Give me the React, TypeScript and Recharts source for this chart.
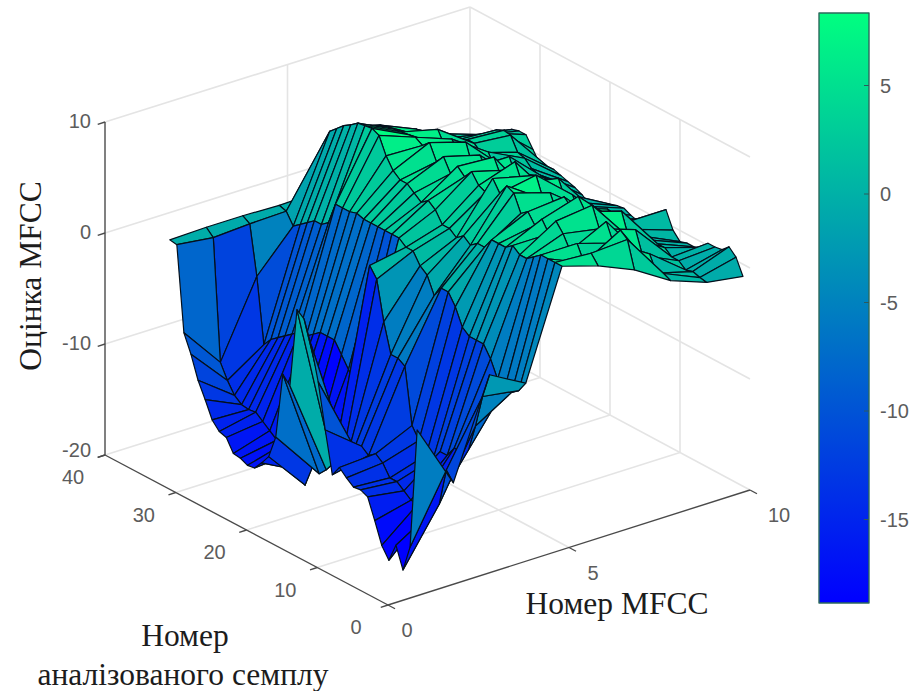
import React from "react";
import { ScatterChart, Scatter, XAxis, YAxis } from "recharts";

// Estimated MFCC scores, one array per MFCC number, indexed by sample 1..36
const mfcc1 = [-5.6,-16.5,-18.9,-17,-18.7,-17.7,-15.8,-14,-13.7,-13.8,-13.3,-12.7,-13.7,-10,-6,-3,-1,-0.5,-7.7,-7,-13,-15.1,-16,-16.8,-16.9,-16.6,-16.5,-15.4,-15.2,-14.5,-13,-11.6,-9.6,-8,-0.4,-0.3];
const mfcc2 = [-11.4,-10.6,-14,-15,-15.5,-15,-15,-14.5,-14,-14,-13,-12.5,-13,-12.5,-13,-14,-15.5,-15.4,-16.3,-17,-16.8,-18.7,-17.7,-16.5,-16,-16,-15.5,-15,-14.5,-14.6,-14.5,-14,-13,-11.7,-0.8,-0.2];
const mfcc3 = [-2.7,-5,-8,-10.5,-11,-11,-12,-12,-13,-13,-12,-11,-6,-5.6,-5.6,-3,0.5,1.4,-9,-10,-9,-8,-7,-7,-7,-7.5,-8,-8,-8.5,-9,-9.5,-10,-10.8,-5,-0.6,-0.2];
const mfcc4 = [-4.5,-5.5,-6,-6,-5.5,-4,-3,-3,-3,-2.5,-1,0,0,-1,0.5,1,2,2,2.5,2.5,2.5,2.5,2.5,2.5,2.7,2.5,2.5,2.5,0.5,0,0,-0.5,-1,-1.5,-0.5,-0.3];
const mfcc5 = [5,5,5,5,4.5,4,4,4.5,4,4,4,3,3,2.5,3,2.5,3,3,4,4.5,4,4.5,5,5,5.5,6.5,8,8.3,8.2,8.1,7.6,7.2,6.6,6,4.5,-0.2];
const mfcc6 = [4,4.8,3.6,5,4,5.2,6,4.5,5.5,4.6,5.5,5,6.5,6.8,5.8,6.8,5.2,5.5,6.4,5.6,6.2,5.2,6.4,5.6,7,6.4,6.8,6.7,6.6,6.5,6.4,6.2,5.8,5,4,0];
const mfcc7 = [2.6,5,5.5,4,5.6,4.6,6.4,5.5,6.5,5.2,5.8,4,5.5,4.6,6.4,6,5,6.6,5.5,4.6,6,4.5,5.5,4,6,4.6,5.6,4.6,5.8,4.7,4.5,4.8,4.5,4,3,0];
const mfcc8 = [0.6,0.9,0.6,2,1.5,3.5,2.5,4.5,3.4,4,2.5,2,3,2.4,3.6,2.8,4.4,2.6,3.8,2.5,1.6,3,2.4,4,2.8,2.2,3.4,3,3.5,3.5,3.2,3,3,2.5,2,0];
const mfcc9 = [-0.6,-0.5,-0.3,-0.5,0,0,0.5,0.5,0.5,0.5,0.8,1.2,1,0.5,0,0,0.5,0.5,0.5,0.8,0.5,0,0.5,1,1,1.2,1.8,2,3.2,3.3,3,2.4,1.9,1.5,1,0];
const mfcc10 = [-1.1,0.3,0.9,0.3,0.2,0.2,-0.5,-0.8,-0.8,-1,-0.3,1.2,0.2,-1,-1.2,-1.2,-1,-0.7,-0.8,-1,-1.5,-2.2,-2,-1.5,-1.2,-1,-0.8,-0.6,-0.6,-0.8,0.2,1.2,1.2,1,0.6,0];
const scores = [mfcc1, mfcc2, mfcc3, mfcc4, mfcc5, mfcc6, mfcc7, mfcc8, mfcc9, mfcc10];

const mfccTicks = [0, 5, 10];
const sampleTicks = [0, 10, 20, 30, 40];
const scoreTicks = [-20, -10, 0, 10];
const colorbarTicks = [-15, -10, -5, 0, 5];
const colorMin = -18.87;
const colorMax = 8.3;

const W = 916;
const H = 691;
const project = (m: number, s: number, z: number) => ({
  x: 388 + 36.2 * m - 7.075 * s + 0.0075 * m * s,
  y: 605 - 11.5 * m - 3.75 * s - 11.1 * (z + 20),
});
const barY = (z: number) => 194 - 21.7 * z;

const winter = (z: number) => {
  const t = Math.min(1, Math.max(0, (z - colorMin) / (colorMax - colorMin)));
  return `rgb(0,${Math.round(255 * t)},${Math.round(255 - 127 * t)})`;
};

type P = { x: number; y: number };
const shapeOf = (pts: P[], style: any) => {
  const cx = pts.reduce((a, p) => a + p.x, 0) / pts.length;
  const cy = pts.reduce((a, p) => a + p.y, 0) / pts.length;
  return { x: cx, y: cy, offsets: pts.map((p) => ({ x: p.x - cx, y: p.y - cy })), ...style };
};

const Poly = (props: any) => {
  const { cx, cy, payload } = props;
  const d =
    payload.offsets.map((o: P, i: number) => `${i ? "L" : "M"}${cx + o.x} ${cy + o.y}`).join(" ") +
    (payload.closed ? " Z" : "");
  return (
    <g>
      {payload.gradient && (
        <defs>
          <linearGradient id="winterBar" x1="0" y1="0" x2="0" y2="1">
            <stop offset="0%" stopColor={winter(colorMax)} />
            <stop offset="100%" stopColor={winter(colorMin)} />
          </linearGradient>
        </defs>
      )}
      <path
        d={d}
        fill={payload.gradient ? "url(#winterBar)" : payload.fill || "none"}
        stroke={payload.stroke}
        strokeWidth={payload.sw}
        strokeLinejoin="round"
      />
    </g>
  );
};

const Txt = (props: any) => {
  const { cx, cy, payload } = props;
  return (
    <text
      x={cx}
      y={cy}
      textAnchor={payload.anchor || "middle"}
      dominantBaseline="central"
      fontFamily={payload.font}
      fontSize={payload.size}
      fill={payload.color}
      transform={payload.rotate ? `rotate(${payload.rotate} ${cx} ${cy})` : undefined}
    >
      {payload.text}
    </text>
  );
};

const gridStyle = { stroke: "#e4e4e4", sw: 1.6 };
const axisStyle = { stroke: "#4a4a4a", sw: 1.4 };
const seg = (a: P, b: P, style: any) => shapeOf([a, b], style);

const grid: any[] = [];
[5].forEach((m) => {
  grid.push(seg(project(m, 40, -20), project(m, 40, 10), gridStyle));
  grid.push(seg(project(m, 0, -20), project(m, 40, -20), gridStyle));
});
[10, 20, 30].forEach((s) => {
  grid.push(seg(project(10, s, -20), project(10, s, 10), gridStyle));
  grid.push(seg(project(0, s, -20), project(10, s, -20), gridStyle));
});
[-10, 0, 10].forEach((z) => {
  grid.push(seg(project(0, 40, z), project(10, 40, z), gridStyle));
  grid.push(seg(project(10, 40, z), project(10, 0, z), gridStyle));
});
grid.push(seg(project(10, 40, -20), project(10, 40, 10), gridStyle));
grid.push(seg(project(0, 40, -20), project(10, 40, -20), gridStyle));
grid.push(seg(project(10, 0, -20), project(10, 40, -20), gridStyle));

const axes: any[] = [
  seg(project(0, 40, -20), project(0, 40, 10), axisStyle),
  seg(project(0, 40, -20), project(0, 0, -20), axisStyle),
  seg(project(0, 0, -20), project(10, 0, -20), axisStyle),
];
scoreTicks.forEach((z) => axes.push(seg(project(0, 40, z), project(-0.2, 40, z), axisStyle)));
sampleTicks.forEach((s) => axes.push(seg(project(0, s, -20), project(-0.2, s, -20), axisStyle)));
mfccTicks.forEach((m) => axes.push(seg(project(m, 0, -20), project(m, -1, -20), axisStyle)));

const faces: any[] = [];
for (let s = 34; s >= 0; s--) {
  for (let m = 8; m >= 0; m--) {
    const corner = (i: number, j: number) => project(i + 1, j + 1, scores[i][j]);
    faces.push(
      shapeOf([corner(m, s), corner(m + 1, s), corner(m + 1, s + 1), corner(m, s + 1)], {
        fill: winter(scores[m][s]),
        stroke: "#04101c",
        sw: 1.2,
        closed: true,
      })
    );
  }
}

const bar = [
  shapeOf(
    [
      { x: 819, y: 13 },
      { x: 869, y: 13 },
      { x: 869, y: 603 },
      { x: 819, y: 603 },
    ],
    { gradient: true, stroke: "#2c6a5c", sw: 1.4, closed: true }
  ),
  ...colorbarTicks.map((z) => seg({ x: 864, y: barY(z) }, { x: 869, y: barY(z) }, { stroke: "#2c5a5c", sw: 1 })),
];

const sans = "'Liberation Sans', Arial, sans-serif";
const serif = "'Liberation Serif', 'Times New Roman', serif";
const tick = { font: sans, size: 20, color: "#5c5c5c" };
const title = { font: serif, size: 31.5, color: "#1c1c1c" };
const labels: any[] = [
  ...scoreTicks.map((z) => ({ x: 91, y: project(0, 40, z).y + (z === -20 ? -5 : -1), text: String(z), anchor: "end", ...tick })),
  ...sampleTicks.map((s) => {
    const p = project(0, s, -20);
    return { x: p.x - 32, y: p.y + 22, text: String(s), ...tick };
  }),
  ...mfccTicks.map((m) => {
    const p = project(m, 0, -20);
    return { x: p.x + 19 + m, y: p.y + 25, text: String(m), ...tick };
  }),
  ...colorbarTicks.map((z) => ({ x: 880, y: barY(z), text: String(z), anchor: "start", ...tick })),
  { x: 30, y: 276, text: "Оцінка MFCC", rotate: -90, ...title },
  { x: 617, y: 603, text: "Номер MFCC", ...title },
  { x: 185, y: 635, text: "Номер", ...title },
  { x: 183, y: 674, text: "аналізованого семплу", ...title },
];

export default function App() {
  return (
    <div style={{ position: "absolute", left: 0, top: 0, background: "#fff" }}>
      <ScatterChart width={W} height={H} margin={{ top: 0, right: 0, bottom: 0, left: 0 }}>
        <XAxis type="number" dataKey="x" domain={[0, W]} hide />
        <YAxis type="number" dataKey="y" domain={[0, H]} reversed hide />
        <Scatter data={grid} shape={Poly} isAnimationActive={false} />
        <Scatter data={axes} shape={Poly} isAnimationActive={false} />
        <Scatter data={faces} shape={Poly} isAnimationActive={false} />
        <Scatter data={bar} shape={Poly} isAnimationActive={false} />
        <Scatter data={labels} shape={Txt} isAnimationActive={false} />
      </ScatterChart>
    </div>
  );
}
